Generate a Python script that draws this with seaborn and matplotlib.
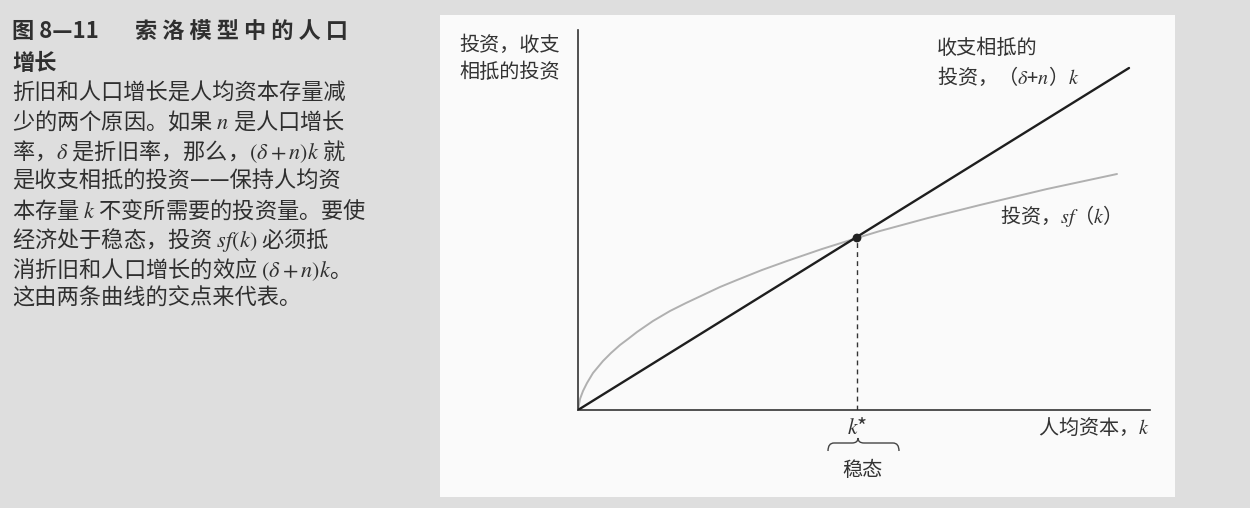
import numpy as np
import pandas as pd
import matplotlib
matplotlib.use("Agg")
import matplotlib.pyplot as plt
import seaborn as sns
from matplotlib.patches import Rectangle, PathPatch
from matplotlib.path import Path

# curve points (k, sf(k))
k_curve = [0, 0.02, 0.05, 0.09, 0.15, 0.25, 0.33, 0.42, 0.50, 0.59, 0.75, 0.92, 1.08,
           1.25, 1.42, 1.59, 1.84, 2.09, 2.44, 2.79, 3.02, 3.50, 4.02, 4.69, 5.39]
sf_curve = [0, 0.11, 0.19, 0.27, 0.37, 0.49, 0.57, 0.65, 0.71, 0.78, 0.89, 0.99, 1.07,
            1.15, 1.23, 1.30, 1.40, 1.49, 1.61, 1.72, 1.79, 1.92, 2.05, 2.21, 2.36]

# break-even line (delta+n)k, end points
k_line = [0, 5.51]
be_line = [0, 3.42]

k_star = 2.79
y_star = 1.72

caption_title = ["图 8—11", "索 洛 模 型 中 的 人 口", "增长"]
caption_lines = [
    "折旧和人口增长是人均资本存量减",
    "少的两个原因。如果 $n$ 是人口增长",
    "率，$\\delta$ 是折旧率，那么，$(\\delta+n)k$ 就",
    "是收支相抵的投资——保持人均资",
    "本存量 $k$ 不变所需要的投资量。要使",
    "经济处于稳态，投资 $sf(k)$ 必须抵",
    "消折旧和人口增长的效应 $(\\delta+n)k$。",
    "这由两条曲线的交点来代表。",
]

sns.set_style("white")
plt.rcParams['font.family'] = ['Noto Sans CJK SC', 'DejaVu Sans']
plt.rcParams['mathtext.fontset'] = 'stix'
plt.rcParams['axes.unicode_minus'] = False

W, H = 1250, 508
fig = plt.figure(figsize=(12.5, 5.08), dpi=100)
fig.patch.set_facecolor('#dedede')

def fx(px):
    return px / W

def fy(py):
    return 1 - py / H

# white panel behind the chart
fig.patches.append(Rectangle((fx(440), fy(497)), fx(1175) - fx(440), (497 - 15) / H,
                             transform=fig.transFigure, facecolor='#fafafa',
                             edgecolor='none', zorder=-5))

# caption on the left
txt_col = '#2f2f2f'
fig.text(fx(12), fy(31), caption_title[0], fontsize=16, fontweight='bold',
         color=txt_col, va='center', ha='left')
fig.text(fx(135), fy(31), caption_title[1], fontsize=16, fontweight='bold',
         color=txt_col, va='center', ha='left')
fig.text(fx(12), fy(63), caption_title[2], fontsize=16, fontweight='bold',
         color=txt_col, va='center', ha='left')
for i, line in enumerate(caption_lines):
    fig.text(fx(12), fy(93 + i * 29.3), line, fontsize=16, color=txt_col,
             va='center', ha='left')

# axes: origin at (578, 410) px
ax = fig.add_axes([fx(578), fy(410), fx(1150) - fx(578), (410 - 30) / H])
ax.set_facecolor('none')
ax.set_zorder(2)
ax.set_xlim(0, 5.72)
ax.set_ylim(0, 3.80)

curve_df = pd.DataFrame({'k': k_curve, 'sf': sf_curve})
line_df = pd.DataFrame({'k': k_line, 'inv': be_line})
sns.lineplot(data=curve_df, x='k', y='sf', ax=ax, color='#b0b0b0', lw=1.4,
             sort=False, zorder=2)
sns.lineplot(data=line_df, x='k', y='inv', ax=ax, color='#1e1e1e', lw=1.7,
             sort=False, zorder=3)
ax.plot([k_star, k_star], [0, y_star], ls=(0, (3.5, 3)), color='#333333', lw=1.0, zorder=2)
sns.scatterplot(x=[k_star], y=[y_star], ax=ax, color='#222222', s=40,
                edgecolor='none', zorder=4)

for s in ['top', 'right']:
    ax.spines[s].set_visible(False)
for s in ['left', 'bottom']:
    ax.spines[s].set_color('#333333')
    ax.spines[s].set_linewidth(1.2)
ax.set_xticks([])
ax.set_yticks([])
ax.set_xlabel('')
ax.set_ylabel('')

lab_col = '#333333'
fs = 14.5
# y axis label
fig.text(fx(459), fy(45), "投资，收支", fontsize=fs, color=lab_col, va='center', ha='left')
fig.text(fx(459), fy(73), "相抵的投资", fontsize=fs, color=lab_col, va='center', ha='left')
# break-even line label
fig.text(fx(937), fy(48), "收支相抵的", fontsize=fs, color=lab_col, va='center', ha='left')
fig.text(fx(937), fy(77), "投资，（$\\delta$+$n$）$k$", fontsize=fs, color=lab_col,
         va='center', ha='left')
# investment curve label
fig.text(fx(1000), fy(216), "投资，$sf$（$k$）", fontsize=fs, color=lab_col,
         va='center', ha='left')
# x axis label
fig.text(fx(1150), fy(428), "人均资本，$k$", fontsize=fs, color=lab_col,
         va='center', ha='right')

# k* and brace
ax.text(k_star, -0.18, "$k$*", fontsize=15.5, color=lab_col, ha='center', va='center',
        clip_on=False)
x0, x1 = k_star - 0.29, k_star + 0.42
xm = k_star + 0.01
yb, yh, yt = -0.41, -0.33, -0.28
verts = [(x0, yb), (x0, yh), (x0 + 0.06, yh),
         (xm - 0.06, yh), (xm, yh), (xm, yt),
         (xm, yh), (xm + 0.06, yh),
         (x1 - 0.06, yh), (x1, yh), (x1, yb)]
codes = [Path.MOVETO, Path.CURVE3, Path.CURVE3,
         Path.LINETO, Path.CURVE3, Path.CURVE3,
         Path.CURVE3, Path.CURVE3,
         Path.LINETO, Path.CURVE3, Path.CURVE3]
ax.add_patch(PathPatch(Path(verts, codes), facecolor='none', edgecolor='#444444',
                       lw=1.0, clip_on=False))
ax.text(k_star + 0.05, -0.60, "稳态", fontsize=fs, color=lab_col, ha='center',
        va='center', clip_on=False)

fig.savefig('out.png', dpi=100, facecolor=fig.get_facecolor())
